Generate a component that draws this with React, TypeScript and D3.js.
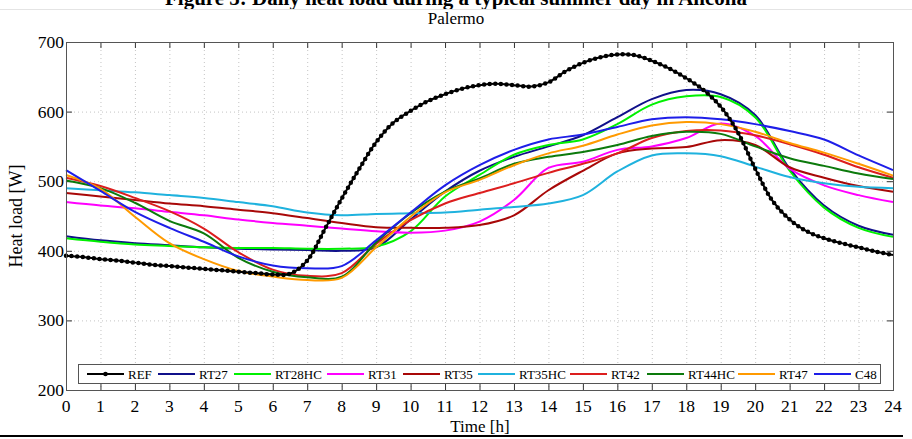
import React from "react";
import * as d3 from "d3";

// Hourly time axis (h) and half-hourly axis used by the reference profile
const hours = [0, 1, 2, 3, 4, 5, 6, 7, 8, 9, 10, 11, 12, 13, 14, 15, 16, 17, 18, 19, 20, 21, 22, 23, 24];
const refHours = [
  0, 0.5, 1, 1.5, 2, 2.5, 3, 3.5, 4, 4.5, 5, 5.5, 6, 6.5, 7, 7.5, 8, 8.5, 9, 9.5, 10, 10.5, 11, 11.5,
  12, 12.5, 13, 13.5, 14, 14.5, 15, 15.5, 16, 16.5, 17, 17.5, 18, 18.5, 19, 19.5, 20, 20.5, 21, 21.5,
  22, 22.5, 23, 23.5, 24,
];

// Heat load [W]
const REF = [
  393, 391, 388, 386, 383, 380, 378, 376, 374, 372, 370, 368, 366, 367, 386, 430, 475, 517, 556, 584,
  601, 615, 625, 633, 638, 640, 638, 636, 642, 658, 670, 678, 682, 681, 673, 662, 648, 631, 607, 570,
  518, 472, 445, 428, 418, 411, 405, 399, 394,
];
const RT27 = [421, 415, 411, 408, 405, 403, 402, 401, 400, 405, 445, 485, 515, 535, 550, 566, 592, 618, 631, 625, 595, 518, 465, 436, 423];
const RT28HC = [418, 413, 409, 407, 405, 404, 404, 403, 403, 406, 428, 478, 509, 538, 552, 560, 582, 610, 622, 621, 592, 515, 462, 433, 420];
const RT31 = [470, 465, 461, 456, 451, 445, 440, 436, 432, 428, 426, 429, 442, 473, 519, 528, 545, 550, 562, 583, 565, 518, 494, 480, 470];
const RT35 = [483, 478, 473, 468, 464, 459, 454, 447, 440, 434, 433, 433, 437, 451, 487, 515, 540, 547, 549, 559, 552, 520, 505, 493, 485];
const RT35HC = [490, 487, 484, 480, 476, 470, 464, 455, 451, 453, 454, 455, 459, 463, 468, 480, 514, 537, 540, 536, 521, 506, 497, 492, 490];
const RT42 = [505, 493, 476, 457, 432, 398, 373, 364, 368, 410, 444, 468, 483, 497, 512, 525, 540, 562, 572, 573, 566, 553, 538, 520, 505];
const RT44HC = [501, 490, 469, 443, 425, 390, 370, 362, 363, 412, 454, 485, 504, 525, 535, 542, 552, 565, 571, 568, 550, 533, 522, 511, 503];
const RT47 = [509, 489, 449, 411, 388, 371, 363, 358, 361, 405, 449, 484, 502, 523, 540, 551, 567, 580, 585, 582, 571, 555, 541, 525, 508];
const C48 = [516, 486, 456, 433, 413, 392, 379, 375, 378, 415, 455, 494, 523, 545, 560, 567, 578, 589, 592, 589, 582, 572, 560, 537, 516];

const seriesNames = ["RT27", "RT28HC", "RT31", "RT35", "RT35HC", "RT42", "RT44HC", "RT47", "C48"];
const seriesValues = [RT27, RT28HC, RT31, RT35, RT35HC, RT42, RT44HC, RT47, C48];
const seriesColors = ["#10108a", "#00f000", "#ff00ff", "#a80808", "#1fb2de", "#dc1e1e", "#0c7a0c", "#ff9a00", "#1e1ee8"];

const yTicks = [200, 300, 400, 500, 600, 700];
const xTicks = hours;

const W = 912;
const H = 439;
const M = { left: 66, right: 893, top: 42, bottom: 390 };
const FONT = "'Liberation Serif', 'Times New Roman', serif";

export default function App() {
  const x = d3.scaleLinear().domain([0, 24]).range([M.left, M.right]);
  const y = d3.scaleLinear().domain([200, 700]).range([M.bottom, M.top]);

  const line = d3
    .line<[number, number]>()
    .x((d) => x(d[0]))
    .y((d) => y(d[1]))
    .curve(d3.curveCatmullRom.alpha(0.5));

  const refPath = line(refHours.map((h, i) => [h, REF[i]] as [number, number])) || "";

  const legendItems = [
    { name: "REF", color: "#000", x0: 87 },
    ...seriesNames.map((n, i) => ({ name: n, color: seriesColors[i], x0: [158, 234, 327, 403, 478, 570, 647, 738, 814][i] })),
  ];

  const tickLen = 6;

  return (
    <svg
      width={W}
      height={H}
      viewBox={`0 0 ${W} ${H}`}
      style={{ position: "absolute", left: 0, top: 0, background: "#fff" }}
      fontFamily={FONT}
    >
      <rect x={0} y={0} width={W} height={H} fill="#fff" />
      {/* page heading, partially cut at the top edge */}
      <text x={456} y={5} textAnchor="middle" fontSize={21} fontWeight="bold" fill="#000">
        Figure 5: Daily heat load during a typical summer day in Ancona
      </text>
      <line x1={0} x2={W} y1={9.5} y2={9.5} stroke="#e4e4e4" strokeWidth={1} />
      <text x={456} y={24} textAnchor="middle" fontSize={17} fill="#000">
        Palermo
      </text>

      {/* dotted grid */}
      <g stroke="#c4c4c4" strokeWidth={1} strokeDasharray="1 3">
        {xTicks.slice(1, -1).map((t) => (
          <line key={"gx" + t} x1={x(t) + 0.5} x2={x(t) + 0.5} y1={M.top} y2={M.bottom} />
        ))}
        {yTicks.slice(1, -1).map((t) => (
          <line key={"gy" + t} x1={M.left} x2={M.right} y1={y(t) + 0.5} y2={y(t) + 0.5} />
        ))}
      </g>

      {/* tick marks on all four sides */}
      <g stroke="#333" strokeWidth={1}>
        {xTicks.map((t) => (
          <g key={"tx" + t}>
            <line x1={x(t) + 0.5} x2={x(t) + 0.5} y1={M.bottom} y2={M.bottom - tickLen} />
            <line x1={x(t) + 0.5} x2={x(t) + 0.5} y1={M.top} y2={M.top + tickLen} />
          </g>
        ))}
        {yTicks.map((t) => (
          <g key={"ty" + t}>
            <line x1={M.left} x2={M.left + tickLen} y1={y(t) + 0.5} y2={y(t) + 0.5} />
            <line x1={M.right} x2={M.right - tickLen} y1={y(t) + 0.5} y2={y(t) + 0.5} />
          </g>
        ))}
      </g>

      {/* series */}
      <g fill="none" strokeWidth={2} strokeLinejoin="round">
        {seriesValues.map((vals, i) => (
          <path
            key={seriesNames[i]}
            d={line(hours.map((h, j) => [h, vals[j]] as [number, number])) || ""}
            stroke={seriesColors[i]}
          />
        ))}
        <path d={refPath} stroke="#000" strokeWidth={2} />
        <path d={refPath} stroke="#000" strokeWidth={4.5} strokeLinecap="round" strokeDasharray="0 5.6" />
      </g>

      {/* legend */}
      <g>
        <rect x={78.5} y={364.5} width={802} height={19} fill="#fff" stroke="#555" strokeWidth={1} />
        {legendItems.map((it) => (
          <g key={it.name}>
            <line x1={it.x0} x2={it.x0 + 37} y1={374} y2={374} stroke={it.color} strokeWidth={2} />
            {it.name === "REF" && <circle cx={it.x0 + 18.5} cy={374} r={2.3} fill="#000" />}
            <text x={it.x0 + 41} y={378.5} fontSize={13} fill="#000">
              {it.name}
            </text>
          </g>
        ))}
      </g>

      {/* axes frame */}
      <rect
        x={M.left + 0.5}
        y={M.top + 0.5}
        width={M.right - M.left}
        height={M.bottom - M.top}
        fill="none"
        stroke="#555"
        strokeWidth={1}
      />

      {/* tick labels */}
      <g fontSize={17.5} fill="#000">
        {xTicks.map((t) => (
          <text key={"lx" + t} x={x(t)} y={412} textAnchor="middle">
            {t}
          </text>
        ))}
        {yTicks.map((t) => (
          <text key={"ly" + t} x={M.left - 2} y={y(t) + 6} textAnchor="end">
            {t}
          </text>
        ))}
      </g>
      <text x={480} y={432} textAnchor="middle" fontSize={17} fill="#000">
        Time [h]
      </text>
      <text transform={`translate(22,${(M.top + M.bottom) / 2}) rotate(-90)`} textAnchor="middle" fontSize={18} fill="#000">
        Heat load [W]
      </text>
      <line x1={0} x2={903} y1={436} y2={436} stroke="#000" strokeWidth={2} />
    </svg>
  );
}
